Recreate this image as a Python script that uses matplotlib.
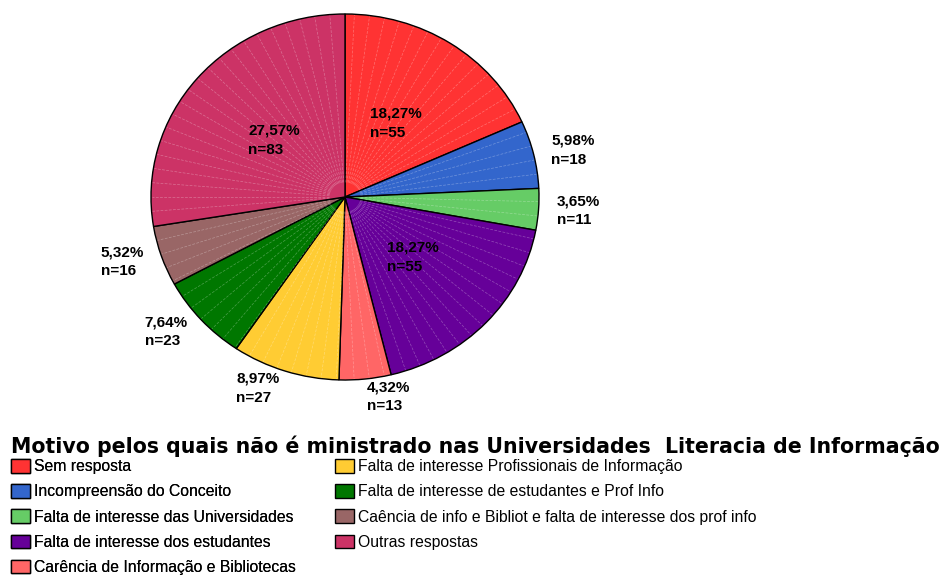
import matplotlib.pyplot as plt
from matplotlib.patches import Rectangle
import numpy as np

plt.rcParams['font.family'] = ['Liberation Sans', 'DejaVu Sans']

categories = ["Sem resposta", "Incompreensão do Conceito", "Falta de interesse das Universidades",
              "Falta de interesse dos estudantes", "Carência de Informação e Bibliotecas",
              "Falta de interesse Profissionais de Informação", "Falta de interesse de estudantes e Prof Info",
              "Caência de info e Bibliot e falta de interesse dos prof info", "Outras respostas"]
counts = [55, 18, 11, 55, 13, 27, 23, 16, 83]
pct_labels = ["18,27%", "5,98%", "3,65%", "18,27%", "4,32%", "8,97%", "7,64%", "5,32%", "27,57%"]
colors = ["#FF3333", "#3366CC", "#66CC66", "#660099", "#FF6666",
          "#FFCC33", "#007700", "#996666", "#CC3366"]
title = "Motivo pelos quais não é ministrado nas Universidades  Literacia de Informação"

W, H = 947, 579
fig = plt.figure(figsize=(W / 100, H / 100), dpi=100)

# pie area (slightly elliptical like the original)
cx, cy, rx, ry = 345, 197, 194, 183
ax = fig.add_axes([(cx - rx) / W, 1 - (cy + ry) / H, 2 * rx / W, 2 * ry / H])
wedges, _ = ax.pie(counts, colors=colors, startangle=90, counterclock=False,
                   wedgeprops=dict(edgecolor="black", linewidth=1.0))
ax.set_aspect('auto')
ax.set_xlim(-1, 1)
ax.set_ylim(-1, 1)
ax.axis('off')

# faint texture lines inside each slice
step = 4.5
for w in wedges:
    for a in np.arange(w.theta1 + step, w.theta2 - 0.5, step):
        t = np.deg2rad(a)
        ax.plot([0.08 * np.cos(t), 0.995 * np.cos(t)], [0.08 * np.sin(t), 0.995 * np.sin(t)],
                color="white", lw=0.5, alpha=0.3, ls=(0, (4, 2)), zorder=3)

total = sum(counts)
gap = 18  # px outside the rim for small slices
for w, c, p in zip(wedges, counts, pct_labels):
    mid = np.deg2rad((w.theta1 + w.theta2) / 2)
    co, si = np.cos(mid), np.sin(mid)
    txt = f"{p}\nn={c}"
    kw = dict(fontsize=11, fontweight="bold", linespacing=1.45, multialignment="left",
              zorder=5, clip_on=False, va="center")
    if c / total > 0.15:
        ax.text(0.48 * co, 0.48 * si, txt, ha="center", **kw)
    else:
        ax.text(co * (1 + gap / rx), si * (1 + gap / ry), txt,
                ha="left" if co >= 0 else "right", **kw)

fig.text(11 / W, 1 - 453 / H, title, fontsize=14.8, fontweight="bold", ha="left",
         va="baseline", family="DejaVu Sans")

handles = [Rectangle((0, 0), 1, 1, facecolor=c, edgecolor="black", lw=1.0) for c in colors]
common = dict(frameon=False, fontsize=11.3, handlelength=1.2, handleheight=0.95,
              handletextpad=0.25, labelspacing=0.64, borderpad=0, borderaxespad=0,
              loc="upper left")
leg1 = fig.legend(handles[:5], categories[:5], bbox_to_anchor=(11 / W, 1 - 459 / H), **common)
fig.add_artist(leg1)
fig.legend(handles[5:], categories[5:], bbox_to_anchor=(335 / W, 1 - 459 / H), **common)

fig.savefig("out.png", dpi=100)
